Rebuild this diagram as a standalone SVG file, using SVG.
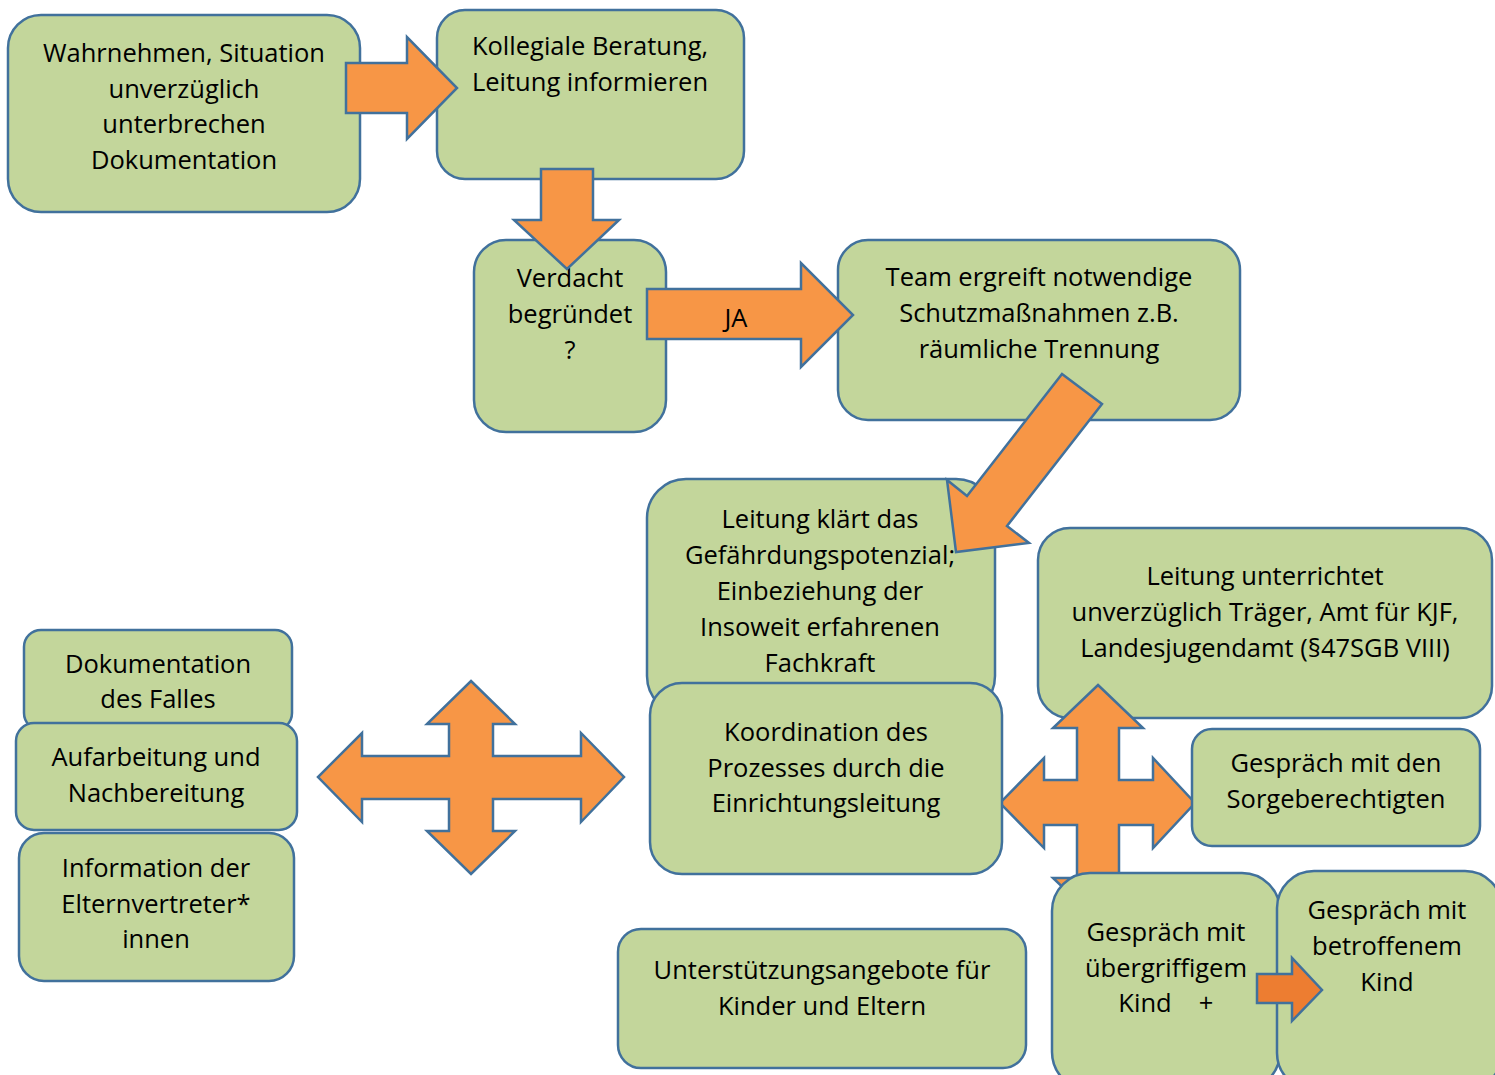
<svg xmlns="http://www.w3.org/2000/svg" width="1495" height="1075" viewBox="0 0 1495 1075">
<style>
.box{fill:#C3D69B;stroke:#41719C;stroke-width:2.5}
.arr{fill:#F79646;stroke:#41719C;stroke-width:2.5;stroke-linejoin:miter}
.arr2{fill:#ED7D31;stroke:#41719C;stroke-width:2.5}
text{font-family:"Open Sans","Liberation Sans",sans-serif;font-size:25.5px;fill:#000;text-anchor:middle;dominant-baseline:central}
</style>
<rect width="1495" height="1075" fill="#fff"/>
<g id="n1"><rect class="box" x="8" y="15" width="352" height="197" rx="33"/>
<text x="184" y="52">Wahrnehmen, Situation</text><text x="184" y="88">unverzüglich</text><text x="184" y="123">unterbrechen</text><text x="184" y="159">Dokumentation</text></g>
<g id="n2"><rect class="box" x="437" y="10" width="307" height="169" rx="28"/>
<text x="590" y="45">Kollegiale Beratung,</text><text x="590" y="81">Leitung informieren</text></g>
<g id="n3"><rect class="box" x="474" y="240" width="192" height="192" rx="32"/>
<text x="570" y="277">Verdacht</text><text x="570" y="313">begründet</text><text x="570" y="349">?</text></g>
<g id="n4"><rect class="box" x="838" y="240" width="402" height="180" rx="30"/>
<text x="1039" y="276">Team ergreift notwendige</text><text x="1039" y="312">Schutzmaßnahmen z.B.</text><text x="1039" y="348">räumliche Trennung</text></g>
<g id="n5"><rect class="box" x="647" y="479" width="348" height="236" rx="39"/>
<text x="820" y="518">Leitung klärt das</text><text x="820" y="554">Gefährdungspotenzial;</text><text x="820" y="590">Einbeziehung der</text><text x="820" y="626">Insoweit erfahrenen</text><text x="820" y="662">Fachkraft</text></g>
<g id="n6"><rect class="box" x="1038" y="528" width="454" height="190" rx="32"/>
<text x="1265" y="575">Leitung unterrichtet</text><text x="1265" y="611">unverzüglich Träger, Amt für KJF,</text><text x="1265" y="647">Landesjugendamt (§47SGB VIII)</text></g>
<g id="connectors">
<polygon class="arr" points="346,63 407,63 407,37 457,88 407,139 407,113 346,113"/>
<polygon class="arr" points="541,169 593,169 593,220 619,220 567,269 514,220 541,220"/>
<polygon class="arr" points="647,289 801,289 801,263 853,315 801,367 801,339 647,339"/>
<polygon class="arr" points="1062,374 1102,404 1007,526 1029,543 956,552 947,480 967,496"/>
<polygon class="arr" points="471,681 515,724 493,724 493,756 581,756 581,733 624,777 581,822 581,799 493,799 493,831 515,831 471,874 427,831 449,831 449,799 362,799 362,822 318,777 362,733 362,756 449,756 449,724 427,724"/>
<polygon class="arr" points="1098,685 1143,728 1119,728 1119,780 1153,780 1153,758 1195,803 1153,848 1153,825 1119,825 1119,878 1143,878 1098,921 1053,878 1077,878 1077,825 1044,825 1044,848 1000,803 1044,758 1044,780 1077,780 1077,728 1053,728"/>
</g>
<g id="n7"><rect class="box" x="650" y="683" width="352" height="191" rx="32"/>
<text x="826" y="731">Koordination des</text><text x="826" y="767">Prozesses durch die</text><text x="826" y="802">Einrichtungsleitung</text></g>
<g id="n8"><rect class="box" x="24" y="630" width="268" height="100" rx="17"/>
<text x="158" y="663">Dokumentation</text><text x="158" y="698">des Falles</text></g>
<g id="n9"><rect class="box" x="16" y="723" width="281" height="107" rx="18"/>
<text x="156" y="756">Aufarbeitung und</text><text x="156" y="792">Nachbereitung</text></g>
<g id="n10"><rect class="box" x="19" y="833" width="275" height="148" rx="25"/>
<text x="156" y="867">Information der</text><text x="156" y="903">Elternvertreter*</text><text x="156" y="938">innen</text></g>
<g id="n11"><rect class="box" x="1192" y="729" width="288" height="117" rx="20"/>
<text x="1336" y="762">Gespräch mit den</text><text x="1336" y="798">Sorgeberechtigten</text></g>
<g id="n12"><rect class="box" x="618" y="929" width="408" height="139" rx="23"/>
<text x="822" y="969">Unterstützungsangebote für</text><text x="822" y="1005">Kinder und Eltern</text></g>
<g id="n13"><rect class="box" x="1052" y="873" width="228" height="217" rx="38"/>
<text x="1166" y="931">Gespräch mit</text><text x="1166" y="967">übergriffigem</text><text x="1145" y="1002">Kind</text><text x="1206" y="1002">+</text></g>
<g id="n14"><rect class="box" x="1277" y="871" width="225" height="219" rx="37"/>
<text x="1387" y="909">Gespräch mit</text><text x="1387" y="945">betroffenem</text><text x="1387" y="981">Kind</text></g>
<g id="connectors2">
<polygon class="arr2" points="1257,974 1292,974 1292,958 1322,990 1292,1021 1292,1003 1257,1003"/>
</g>
<text x="736" y="317">JA</text>
</svg>
